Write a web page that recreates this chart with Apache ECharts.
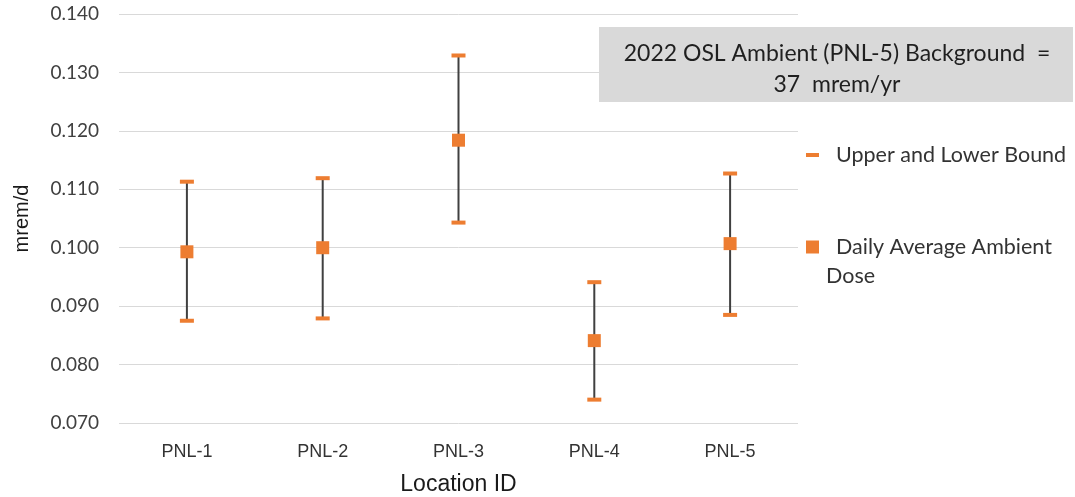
<!DOCTYPE html>
<html>
<head>
<meta charset="utf-8">
<script src="https://cdn.jsdelivr.net/npm/echarts@6/dist/echarts.min.js"></script>
<style>
html,body{margin:0;padding:0;background:#fff;}
#chart{width:1075px;height:497px;}
</style>
</head>
<body>
<div id="chart"></div>
<script>
var categories = ['PNL-1', 'PNL-2', 'PNL-3', 'PNL-4', 'PNL-5'];
var dailyAverage = [0.0993, 0.1000, 0.1184, 0.0841, 0.1007];
var upperBound = [0.1113, 0.1119, 0.1329, 0.0941, 0.1127];
var lowerBound = [0.0875, 0.0879, 0.1043, 0.0740, 0.0885];
var yTicks = { min: 0.07, max: 0.14, interval: 0.01 };
var annotationText = '2022 OSL Ambient (PNL-5) Background  =\n37  mrem/yr';

var FONT = 'Lato';
var ARIAL = 'Liberation Sans';
var ORANGE = '#ED7D31';

var boundData = [];
var rangeData = [];
for (var i = 0; i < categories.length; i++) {
  boundData.push([i, upperBound[i]]);
  boundData.push([i, lowerBound[i]]);
  rangeData.push([i, lowerBound[i], upperBound[i]]);
}
var meanData = dailyAverage.map(function (v, i) { return [i, v]; });

var chart = echarts.init(document.getElementById('chart'));
chart.setOption({
  animation: false,
  backgroundColor: '#ffffff',
  grid: { left: 119, right: 277, top: 14, bottom: 74, containLabel: false, outerBoundsMode: 'none' },
  xAxis: {
    type: 'category',
    data: categories,
    name: 'Location ID',
    nameLocation: 'middle',
    nameGap: 50,
    nameTextStyle: { fontFamily: ARIAL, fontSize: 23, color: '#1a1a1a' },
    axisLine: { show: false },
    axisTick: { show: false },
    axisLabel: { fontFamily: ARIAL, fontSize: 18, color: '#333333', margin: 20 },
    splitLine: { show: false }
  },
  yAxis: {
    type: 'value',
    min: yTicks.min,
    max: yTicks.max,
    interval: yTicks.interval,
    name: 'mrem/d',
    nameLocation: 'middle',
    nameGap: 87,
    nameRotate: 90,
    nameTextStyle: { fontFamily: ARIAL, fontSize: 20, color: '#1a1a1a' },
    axisLine: { show: false },
    axisTick: { show: false },
    axisLabel: {
      fontFamily: FONT, fontSize: 19, color: '#404040', margin: 20,
      formatter: function (v) { return v.toFixed(3); }
    },
    splitLine: { lineStyle: { color: '#d9d9d9', width: 1 } }
  },
  legend: [
    {
      left: 806, top: 144, padding: 0,
      itemWidth: 13, itemHeight: 4, itemGap: 0,
      selectedMode: false,
      icon: 'rect',
      data: ['Upper and Lower Bound'],
      formatter: function (n) { return '{a|' + n + '}'; },
      textStyle: {
        fontFamily: FONT, fontSize: 21.5, color: '#333333',
        rich: { a: { fontFamily: FONT, fontSize: 21.5, color: '#333333', padding: [0, 0, 0, 12] } }
      }
    },
    {
      left: 806, top: 236, padding: 0,
      itemWidth: 13, itemHeight: 13, itemGap: 0,
      selectedMode: false,
      icon: 'rect',
      data: ['Daily Average Ambient Dose'],
      formatter: function () { return '{a|Daily Average Ambient}\n{b|Dose}'; },
      textStyle: {
        fontFamily: FONT, fontSize: 21.5, color: '#333333', padding: [29, 0, 0, 0],
        rich: {
          a: { fontFamily: FONT, fontSize: 21.5, color: '#333333', lineHeight: 29, padding: [0, 0, 0, 12] },
          b: { fontFamily: FONT, fontSize: 21.5, color: '#333333', lineHeight: 29, padding: [0, 0, 0, 2] }
        }
      }
    }
  ],
  graphic: [
    {
      type: 'group',
      left: 599, top: 27,
      children: [
        { type: 'rect', shape: { x: 0, y: 0, width: 474, height: 75 }, style: { fill: '#d9d9d9' } },
        {
          type: 'text', x: 238, y: 42,
          style: {
            text: annotationText, fontFamily: FONT, fontSize: 23, fill: '#1f1f1f',
            align: 'center', verticalAlign: 'middle', lineHeight: 31
          }
        }
      ]
    }
  ],
  series: [
    {
      name: 'Range',
      type: 'custom',
      data: rangeData,
      z: 1,
      renderItem: function (params, api) {
        var p1 = api.coord([api.value(0), api.value(1)]);
        var p2 = api.coord([api.value(0), api.value(2)]);
        return {
          type: 'line',
          shape: { x1: p1[0], y1: p1[1], x2: p2[0], y2: p2[1] },
          style: { stroke: '#404040', lineWidth: 2 }
        };
      },
      encode: { x: 0, y: [1, 2] },
      silent: true
    },
    {
      name: 'Upper and Lower Bound',
      type: 'scatter',
      data: boundData,
      symbol: 'rect',
      symbolSize: [14, 4],
      itemStyle: { color: ORANGE, opacity: 1 },
      z: 3
    },
    {
      name: 'Daily Average Ambient Dose',
      type: 'scatter',
      data: meanData,
      symbol: 'rect',
      symbolSize: 13,
      itemStyle: { color: ORANGE, opacity: 1 },
      z: 4
    }
  ]
});
</script>
</body>
</html>
